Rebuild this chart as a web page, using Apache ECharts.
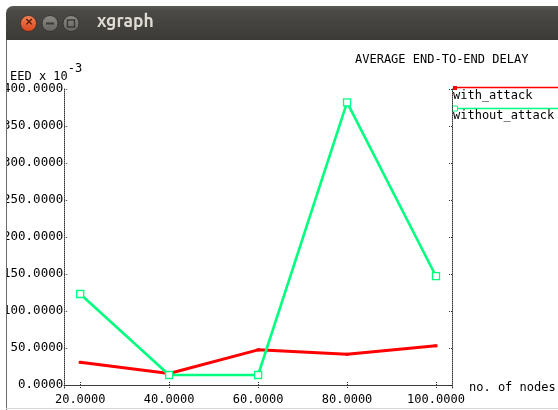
<!DOCTYPE html>
<html>
<head>
<meta charset="utf-8">
<script src="https://cdn.jsdelivr.net/npm/echarts@6/dist/echarts.min.js"></script>
<style>html,body{margin:0;padding:0;background:#fff;}#c{width:558px;height:410px;}</style>
</head>
<body>
<div id="c"></div>
<script>
// ---- data ----
var nodes = [20, 40, 60, 80, 100];
var withAttack = [30.6, 15.5, 47.5, 41.5, 53];
var withoutAttack = [123, 13.5, 13.5, 382, 147];
var seriesNames = ['with_attack', 'without_attack'];
var xTicks = [20, 40, 60, 80, 100];
var yTicks = [0, 50, 100, 150, 200, 250, 300, 350, 400];
var chartTitle = 'AVERAGE END-TO-END DELAY';
var xName = 'no. of nodes';
var windowTitle = 'xgraph';

var MONO = '"DejaVu Sans Mono", "Liberation Mono", monospace';
var RED = '#ff0000', GREEN = '#00ff7f';

function pairs(xs, ys) { return xs.map(function (x, i) { return [x, ys[i]]; }); }
function fmt(v) { return Number(v).toFixed(4); }

var dotted = { color: '#333', width: 1, type: [1, 1] };

var chart = echarts.init(document.getElementById('c'), null, { renderer: 'canvas' });
chart.setOption({
  animation: false,
  backgroundColor: '#ffffff',
  grid: { left: 64, right: 106, top: 88, bottom: 22, containLabel: false },
  xAxis: [
    {
      type: 'value', position: 'bottom', min: 16.4, max: 103.6,
      axisLine: { show: true, lineStyle: dotted },
      axisTick: { show: true, inside: true, length: 4, lineStyle: dotted, customValues: xTicks },
      axisLabel: { show: true, customValues: xTicks, formatter: fmt, color: '#000', fontFamily: MONO, fontSize: 12, margin: 6 },
      splitLine: { show: false }
    },
    {
      type: 'value', position: 'top', min: 16.4, max: 103.6,
      axisLine: { show: true, lineStyle: dotted },
      axisTick: { show: true, inside: true, length: 4, lineStyle: dotted, customValues: xTicks },
      axisLabel: { show: false },
      splitLine: { show: false }
    }
  ],
  yAxis: [
    {
      type: 'value', position: 'left', min: -4.05, max: 401.35,
      axisLine: { show: true, lineStyle: dotted },
      axisTick: { show: true, inside: true, length: 4, lineStyle: dotted, customValues: yTicks },
      axisLabel: { show: true, customValues: yTicks, formatter: fmt, color: '#000', fontFamily: MONO, fontSize: 12.5, margin: 1 },
      splitLine: { show: false }
    },
    {
      type: 'value', position: 'right', min: -4.05, max: 401.35,
      axisLine: { show: true, lineStyle: dotted },
      axisTick: { show: true, inside: true, length: 4, lineStyle: dotted, customValues: yTicks },
      axisLabel: { show: false },
      splitLine: { show: false }
    }
  ],
  series: [
    {
      name: seriesNames[0], type: 'line', xAxisIndex: 0, yAxisIndex: 0,
      data: pairs(nodes, withAttack),
      symbol: 'rect', symbolSize: 3, showSymbol: true,
      lineStyle: { color: RED, width: 3 },
      itemStyle: { color: RED },
      z: 3
    },
    {
      name: seriesNames[1], type: 'line', xAxisIndex: 0, yAxisIndex: 0,
      data: pairs(nodes, withoutAttack),
      symbol: 'rect', symbolSize: 7, showSymbol: true,
      lineStyle: { color: GREEN, width: 2.6 },
      itemStyle: { color: '#ffffff', borderColor: GREEN, borderWidth: 1.3 },
      z: 4
    }
  ],
  graphic: [
    // chart texts
    { type: 'text', left: 355, top: 54, style: { text: chartTitle, font: '12px ' + MONO, fill: '#000' } },
    { type: 'text', left: 10, top: 63, style: {
        text: '{a|EED x 10}{b|-3}',
        rich: { a: { font: '12px ' + MONO, fill: '#000', verticalAlign: 'bottom' },
                b: { font: '12px ' + MONO, fill: '#000', padding: [0, 0, 8, 0], verticalAlign: 'top' } } } },
    { type: 'text', left: 469, top: 382, style: { text: xName, font: '12px ' + MONO, fill: '#000' } },
    // legend
    { type: 'line', shape: { x1: 453, y1: 87.5, x2: 560, y2: 87.5 }, style: { stroke: RED, lineWidth: 1.5 } },
    { type: 'rect', shape: { x: 453, y: 86, width: 4, height: 4 }, style: { fill: RED } },
    { type: 'text', left: 453, top: 90, style: { text: seriesNames[0], font: '12px ' + MONO, fill: '#000' } },
    { type: 'line', shape: { x1: 453, y1: 108.5, x2: 560, y2: 108.5 }, style: { stroke: GREEN, lineWidth: 1.5 } },
    { type: 'rect', shape: { x: 452.5, y: 106, width: 5, height: 5 }, style: { fill: '#fff', stroke: GREEN, lineWidth: 1 } },
    { type: 'text', left: 453, top: 110, style: { text: seriesNames[1], font: '12px ' + MONO, fill: '#000' } },
    // window chrome
    { type: 'rect', z: 100, shape: { x: 0, y: 0, width: 558, height: 6 }, style: { fill: '#ffffff' } },
    { type: 'rect', z: 100, shape: { x: 0, y: 0, width: 6, height: 410 }, style: { fill: '#ffffff' } },
    { type: 'rect', z: 101, shape: { x: 6, y: 6, width: 560, height: 34, r: [7, 0, 0, 0] },
      style: { fill: new echarts.graphic.LinearGradient(0, 0, 0, 1, [
        { offset: 0, color: '#5a5955' }, { offset: 0.15, color: '#4a4945' }, { offset: 1, color: '#3c3b37' }]) } },
    { type: 'line', z: 101, shape: { x1: 6.5, y1: 40, x2: 6.5, y2: 410 }, style: { stroke: '#6b6b6b', lineWidth: 1 } },
    { type: 'line', z: 101, shape: { x1: 6, y1: 408.5, x2: 558, y2: 408.5 }, style: { stroke: '#d6d6d6', lineWidth: 1 } },
    { type: 'circle', z: 102, shape: { cx: 28.5, cy: 23.5, r: 8 },
      style: { fill: new echarts.graphic.LinearGradient(0, 0, 0, 1, [
        { offset: 0, color: '#f3855a' }, { offset: 1, color: '#d8431a' }]), stroke: '#3a2a22', lineWidth: 0.8 } },
    { type: 'text', z: 103, left: 24.5, top: 16.5, style: { text: '×', font: 'bold 11px "DejaVu Sans"', fill: '#4a1a0a' } },
    { type: 'circle', z: 102, shape: { cx: 50, cy: 23.5, r: 8 },
      style: { fill: new echarts.graphic.LinearGradient(0, 0, 0, 1, [
        { offset: 0, color: '#8c8b86' }, { offset: 1, color: '#64635f' }]), stroke: '#2e2d2a', lineWidth: 0.8 } },
    { type: 'rect', z: 103, shape: { x: 46, y: 22.5, width: 8, height: 2 }, style: { fill: '#3c3b37' } },
    { type: 'circle', z: 102, shape: { cx: 71, cy: 23.5, r: 8 },
      style: { fill: new echarts.graphic.LinearGradient(0, 0, 0, 1, [
        { offset: 0, color: '#8c8b86' }, { offset: 1, color: '#64635f' }]), stroke: '#2e2d2a', lineWidth: 0.8 } },
    { type: 'rect', z: 103, shape: { x: 67.5, y: 20, width: 7, height: 7 }, style: { fill: 'none', stroke: '#3c3b37', lineWidth: 1.5 } },
    { type: 'text', z: 103, left: 97, top: 12, style: { text: windowTitle, font: 'bold 17.5px "Ubuntu", "DejaVu Sans", sans-serif', fill: '#dfdbd2' } }
  ]
});
</script>
</body>
</html>
